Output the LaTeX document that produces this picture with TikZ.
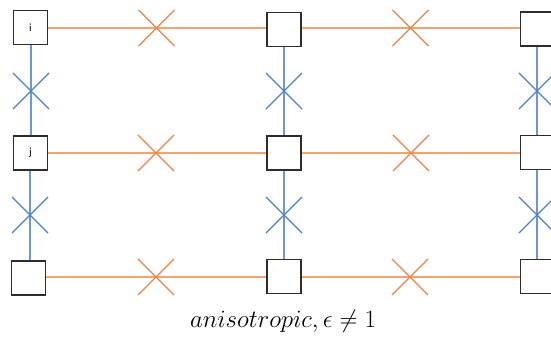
\documentclass[tikz,border=0pt]{standalone}
\usepackage{fontspec}
\newfontfamily\labelfont{Carlito}
\usetikzlibrary{shapes.misc}
\definecolor{hline}{RGB}{241,163,115}
\definecolor{hcross}{RGB}{237,130,70}
\definecolor{vline}{RGB}{110,150,215}
\definecolor{vcross}{RGB}{80,125,205}
\definecolor{boxedge}{RGB}{45,45,45}
\begin{document}
\begin{tikzpicture}[x=1pt,y=-1pt,
  site/.style={draw=boxedge,line width=1.3pt,fill=white,minimum size=34pt,inner sep=0pt,font=\labelfont\fontsize{11}{13}\selectfont},
  hbond/.style={draw=hline,line width=1.8pt},
  vbond/.style={draw=vline,line width=1.6pt},
  hx/.style={cross out,draw=hcross,line width=1.1pt,minimum size=35pt,inner sep=0pt},
  vx/.style={cross out,draw=vcross,line width=1.1pt,minimum size=35pt,inner sep=0pt}]
\useasboundingbox (0,0) rectangle (551,339);
% lattice sites
\node[site] (a1) at (30.5,27.5) {i};
\node[site] (a2) at (284,29.5) {};
\node[site] (a3) at (537.5,29) {};
\node[site] (b1) at (30.5,153) {j};
\node[site] (b2) at (284,153) {};
\node[site] (b3) at (537.5,152.5) {};
\node[site] (c1) at (28.5,278) {};
\node[site] (c2) at (284,276.5) {};
\node[site] (c3) at (537.5,276.5) {};
% horizontal bonds
\path[hbond] (a1.east |- 0,28) -- (a2.west |- 0,28);
\path[hbond] (a2.east |- 0,28) -- (a3.west |- 0,28);
\path[hbond] (b1.east |- 0,153) -- (b2.west |- 0,153);
\path[hbond] (b2.east |- 0,153) -- (b3.west |- 0,153);
\path[hbond] (c1.east |- 0,277) -- (c2.west |- 0,277);
\path[hbond] (c2.east |- 0,277) -- (c3.west |- 0,277);
% vertical bonds
\path[vbond] (a1.south -| 31,0) -- (b1.north -| 31,0);
\path[vbond] (b1.south -| 30,0) -- (c1.north -| 30,0);
\path[vbond] (a2.south -| 284,0) -- (b2.north -| 284,0);
\path[vbond] (b2.south -| 284,0) -- (c2.north -| 284,0);
\path[vbond] (a3.south -| 537,0) -- (b3.north -| 537,0);
\path[vbond] (b3.south -| 537,0) -- (c3.north -| 537,0);
% crosses on the bonds
\node[hx] (x1) at (156.5,28) {};
\node[hx] (x2) at (410.5,28) {};
\node[hx] (x3) at (156,153) {};
\node[hx] (x4) at (411,153) {};
\node[hx] (x5) at (156,277) {};
\node[hx] (x6) at (410,277) {};
\node[vx] (y1) at (31,91) {};
\node[vx] (y2) at (284,91) {};
\node[vx] (y3) at (537,91) {};
\node[vx] (y4) at (30,215) {};
\node[vx] (y5) at (284,215) {};
\node[vx] (y6) at (537,215) {};
% caption
\node[font=\fontsize{25}{30}\selectfont] (cap) at (283,321) {$anisotropic,\epsilon\neq 1$};
\end{tikzpicture}
\end{document}
